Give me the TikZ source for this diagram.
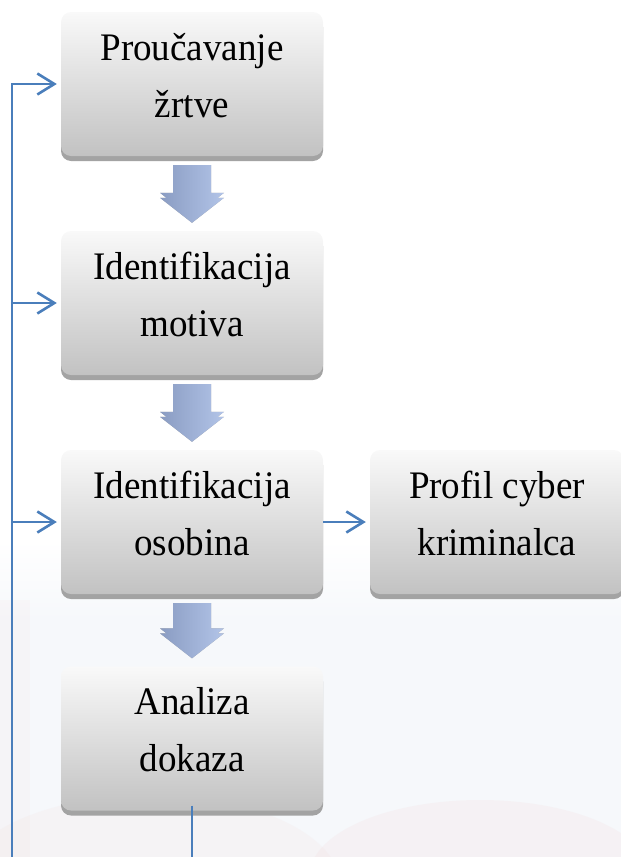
\documentclass[tikz,border=0pt]{standalone}
\usepackage{fontspec}
\setmainfont[FakeStretch=0.95]{Liberation Serif}
\usetikzlibrary{calc,arrows.meta,shadows}
\definecolor{lineblue}{HTML}{4A7EBB}
\definecolor{boxtop}{HTML}{F9F9F9}
\definecolor{boxbot}{HTML}{C2C2C2}
\definecolor{shadowgray}{HTML}{A3A3A3}
\definecolor{arrowL}{HTML}{8A9CC2}
\definecolor{arrowR}{HTML}{B2C4E8}
\definecolor{wmblue}{HTML}{F6F8FB}
\definecolor{wmpink}{HTML}{F3D6D6}
\newcommand\mystrut{\rule[-21pt]{0pt}{51pt}}
\newcommand\blockarrow[2]{%
  \path let \p1=($(#1.south)+(0,9)$), \p2=($(#2.north)+(0,-13)$) in
    [fill=shadowgray]
    (\x1-19pt,\y1-5pt) -- (\x1+19pt,\y1-5pt) -- (\x1+19pt,\y2+20pt) -- (\x1+32pt,\y2+20pt)
    -- (\x1,\y2-5pt) -- (\x1-32pt,\y2+20pt) -- (\x1-19pt,\y2+20pt) -- cycle
    [left color=arrowL, right color=arrowR]
    (\x1-19pt,\y1) -- (\x1+19pt,\y1) -- (\x1+19pt,\y2+25pt) -- (\x1+32pt,\y2+25pt)
    -- (\x1,\y2) -- (\x1-32pt,\y2+25pt) -- (\x1-19pt,\y2+25pt) -- cycle;}
\begin{document}
\begin{tikzpicture}[x=1pt,y=-1pt,
  box/.style={rectangle, rounded corners=10pt, minimum width=262pt, minimum height=144pt,
    top color=boxtop, bottom color=boxbot, draw=none, inner sep=0pt,
    drop shadow={shadow xshift=0pt, shadow yshift=-5pt, fill=shadowgray, opacity=1},
    font=\fontsize{39}{57}\selectfont, align=center},
  feed/.style={draw=lineblue, line width=2.6pt},
  fb/.style={feed, -{Straight Barb[length=17pt,width=21pt]}, shorten >=4pt}]
\useasboundingbox (0,0) rectangle (621,857);
% faint background watermark
\shade[top color=white, bottom color=wmblue] (0,540) rectangle (621,620);
\fill[wmblue] (0,619.5) rectangle (621,857);
\fill[wmpink, opacity=0.18] (480,875) ellipse [x radius=170pt, y radius=75pt];
\fill[wmpink, opacity=0.14] (150,885) ellipse [x radius=190pt, y radius=90pt];
\fill[wmpink, opacity=0.10] (0,600) rectangle (30,857);
% boxes
\node[box] (b1) at (192,84) {\mystrut Proučavanje\\\mystrut žrtve};
\node[box] (b2) at (192,303) {\mystrut Identifikacija\\\mystrut motiva};
\node[box] (b3) at (192,522) {\mystrut Identifikacija\\\mystrut osobina};
\node[box] (b4) at (192,738.5) {\mystrut Analiza\\\mystrut dokaza};
\node[box, minimum width=254pt] (pr) at (497,522) {\mystrut Profil cyber\\\mystrut kriminalca};
% block arrows
\blockarrow{b1}{b2}
\blockarrow{b2}{b3}
\blockarrow{b3}{b4}
% feedback line
\coordinate (lbot) at (12,857);
\draw[feed] (lbot) -- ($(lbot |- b1.west)+(0,-1.3)$);
\draw[fb] (lbot |- b1.west) -- (b1.west);
\draw[fb] (lbot |- b2.west) -- (b2.west);
\draw[fb] (lbot |- b3.west) -- (b3.west);
\draw[fb] (b3.east) -- (pr.west);
\draw[feed] ($(b4.south)+(0,-5)$) -- (b4.south |- lbot);
\end{tikzpicture}
\end{document}
